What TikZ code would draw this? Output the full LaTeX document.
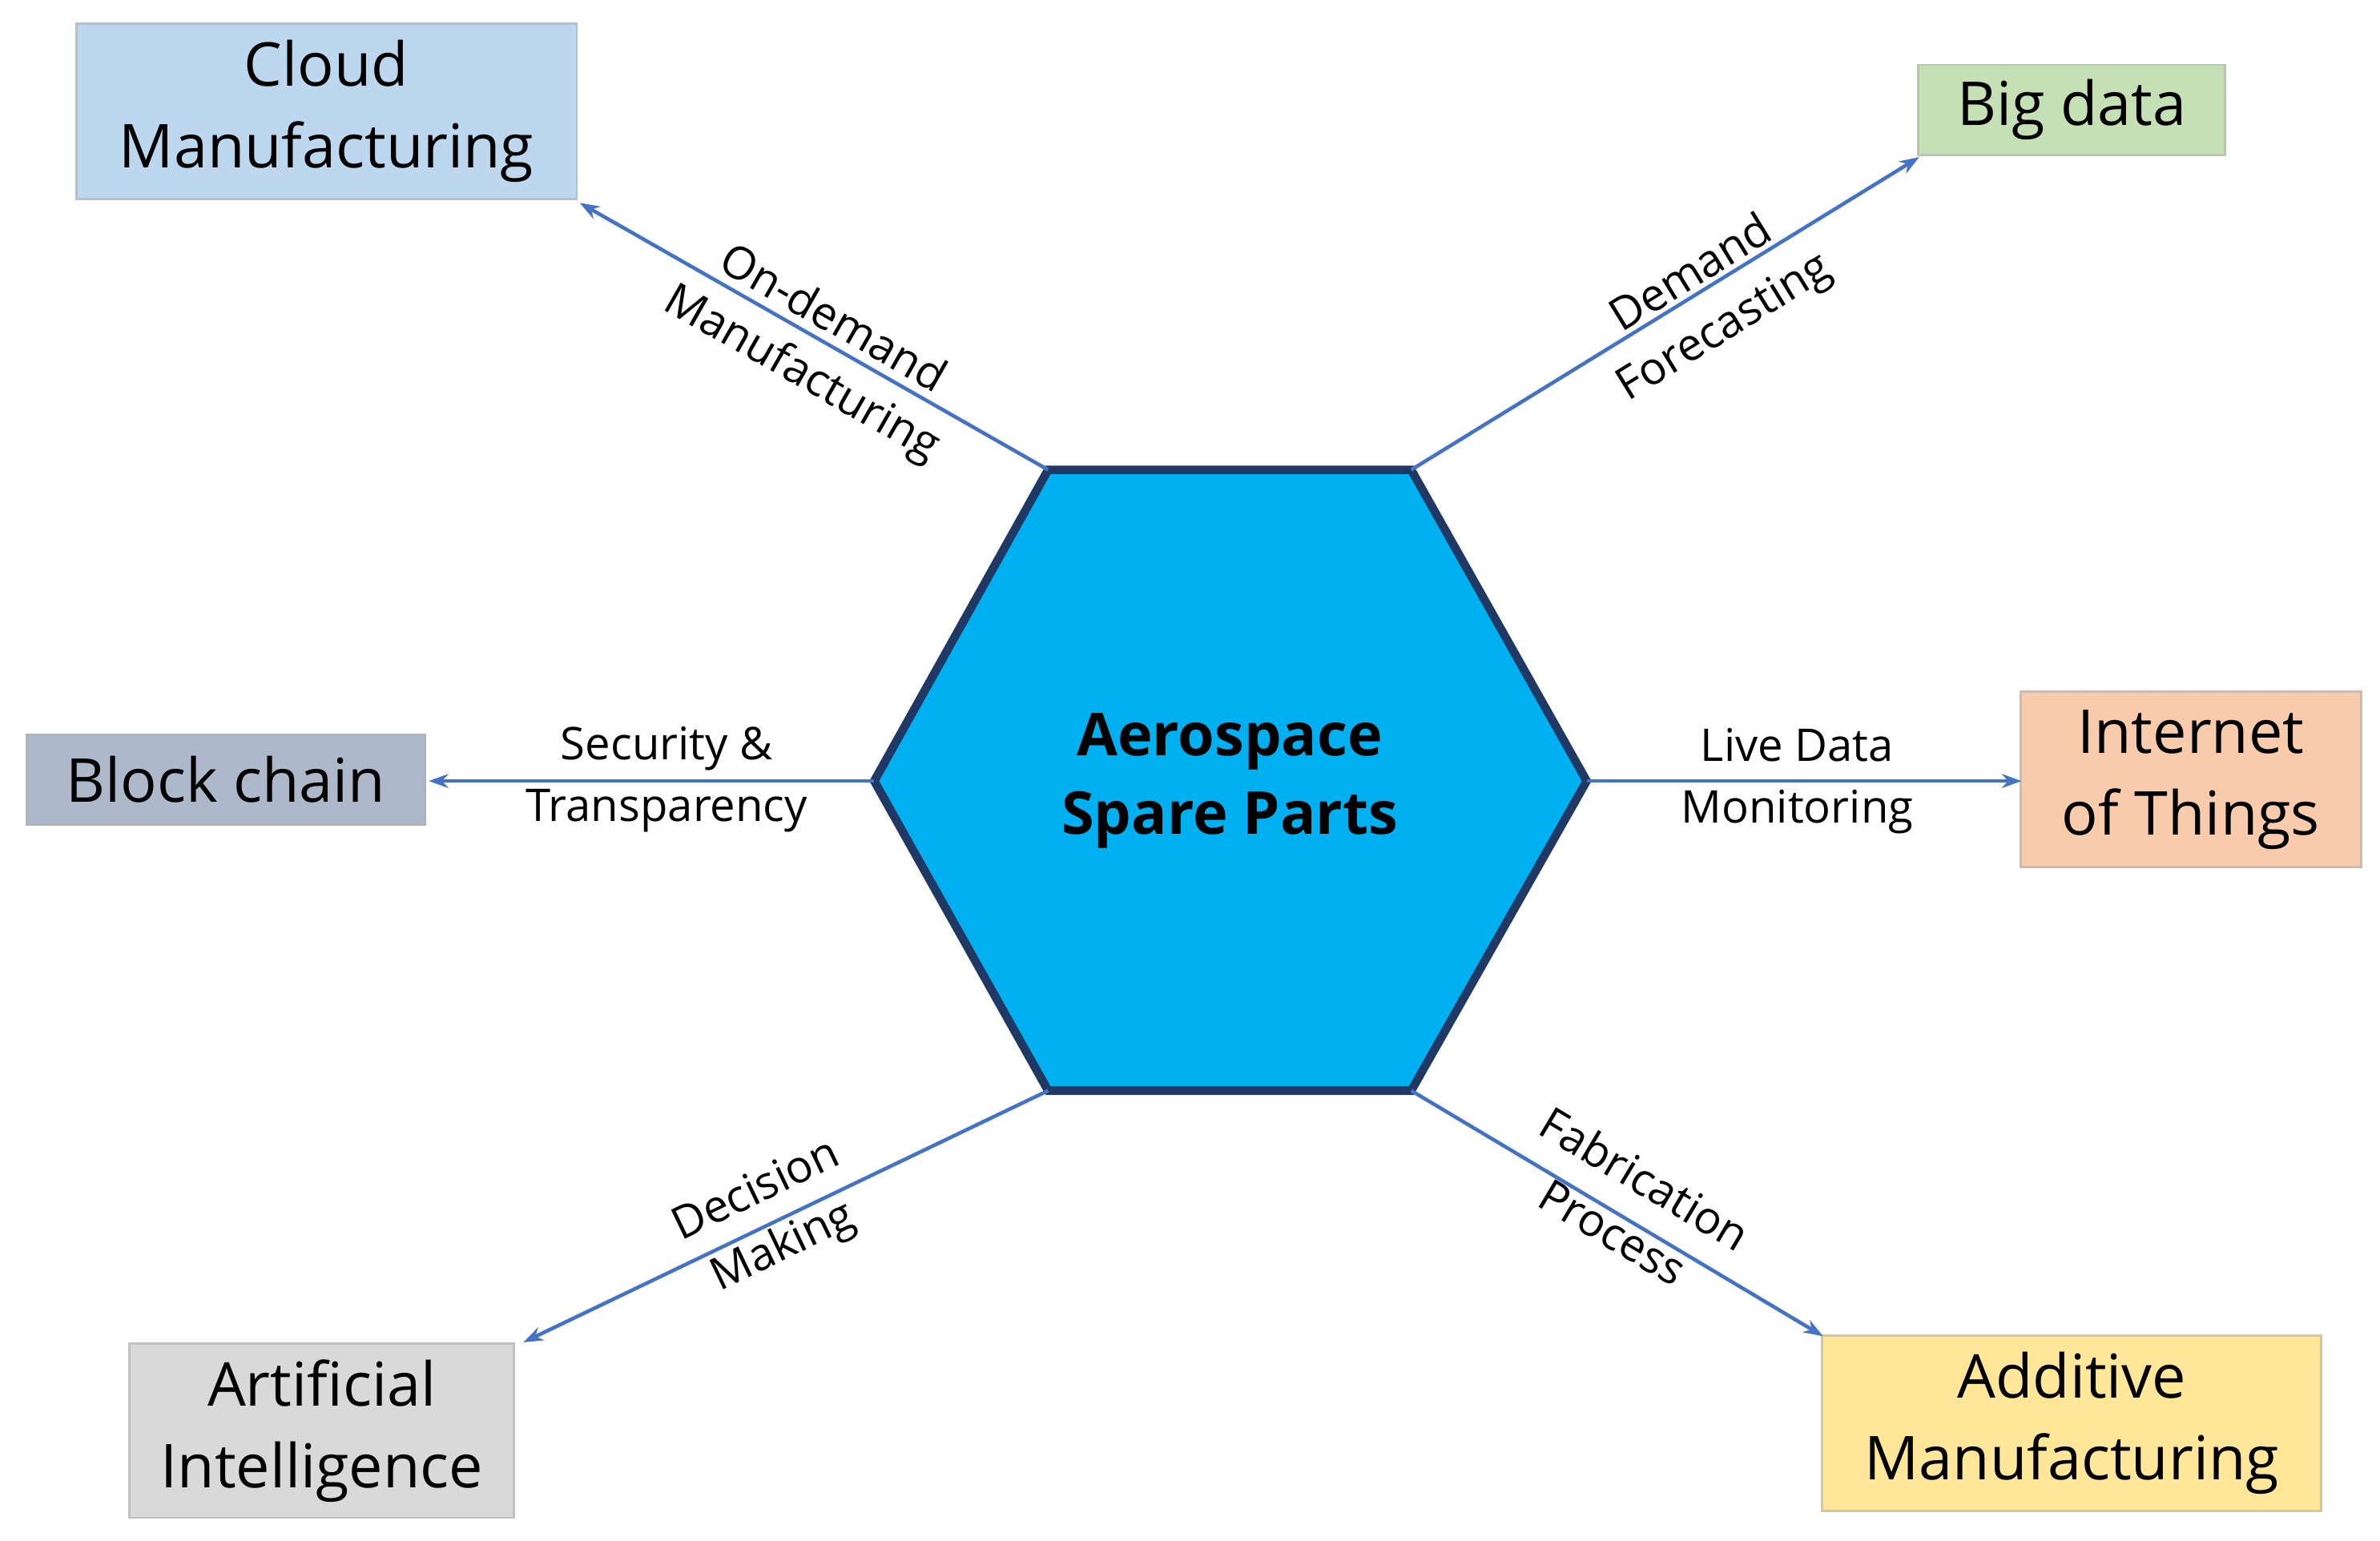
\documentclass[tikz,border=0pt]{standalone}
\usepackage{fontspec}
\setmainfont{Open Sans}
\usetikzlibrary{arrows.meta}
\definecolor{hexfill}{HTML}{00B0F0}
\definecolor{hexline}{HTML}{1F3864}
\definecolor{arr}{HTML}{4472C4}
\begin{document}
\begin{tikzpicture}[x=0.019045cm,y=-0.019045cm,
  box/.style={draw=#1!70!black!60, line width=0.8pt, fill=#1, align=center, inner sep=0pt, font=\fontsize{21.5}{29}\selectfont},
  lab/.style={align=center, font=\fontsize{16}{22}\selectfont, inner sep=0pt},
  conn/.style={draw=arr, line width=1.3pt, -{Stealth[length=7pt,width=5pt]}}]
\useasboundingbox (0,0) rectangle (1560,1010);
\definecolor{cA}{HTML}{BDD7EE}\definecolor{cB}{HTML}{C5E0B4}\definecolor{cC}{HTML}{ADB9CA}
\definecolor{cD}{HTML}{F8CBAD}\definecolor{cE}{HTML}{D9D9D9}\definecolor{cF}{HTML}{FFE699}
\coordinate (h1) at (687,308); \coordinate (h2) at (925,308); \coordinate (h3) at (1040,512);
\coordinate (h4) at (925,715); \coordinate (h5) at (687,715); \coordinate (h6) at (573,512);
\draw[fill=hexfill, draw=hexline, line width=3pt, line join=miter] (h1)--(h2)--(h3)--(h4)--(h5)--(h6)--cycle;
\node[align=center, font=\bfseries\fontsize{21}{28}\selectfont] (c) at (806,512) {Aerospace\\Spare Parts};
\node[box=cA, minimum width=6.247cm, minimum height=2.190cm] (cm) at (214,73) {Cloud\\Manufacturing};
\node[box=cB, minimum width=3.828cm, minimum height=1.124cm] (bd) at (1358,72) {Big data};
\node[box=cC, minimum width=4.971cm, minimum height=1.124cm] (bc) at (148,511) {Block chain};
\node[box=cD, minimum width=4.247cm, minimum height=2.190cm] (iot) at (1436,511) {Internet\\of Things};
\node[box=cE, minimum width=4.799cm, minimum height=2.171cm] (ai) at (211,938) {Artificial\\Intelligence};
\node[box=cF, minimum width=6.228cm, minimum height=2.190cm] (am) at (1358,933) {Additive\\Manufacturing};
\coordinate (e1) at (380,133); \coordinate (e2) at (1258,103); \coordinate (e3) at (281,512);
\coordinate (e4) at (1325,512); \coordinate (e5) at (343,880); \coordinate (e6) at (1195,876);
\draw[conn] (h1) -- (e1);
\draw[conn] (h2) -- (e2);
\draw[conn] (h6) -- (e3);
\draw[conn] (h3) -- (e4);
\draw[conn] (h5) -- (e5);
\draw[conn] (h4) -- (e6);
\node[lab, rotate=-29.7] (l1) at (535,228) {On-demand\\Manufacturing};
\node[lab, rotate=31.6] (l2) at (1120,198) {Demand\\Forecasting};
\node[lab] (l3) at (437,511) {Security \&\\Transparency};
\node[lab] (l4) at (1178,512) {Live Data\\Monitoring};
\node[lab, rotate=25.6] (l5) at (505,800) {Decision\\Making};
\node[lab, rotate=-30.8] (l6) at (1068,790) {Fabrication\\Process};
\end{tikzpicture}
\end{document}
